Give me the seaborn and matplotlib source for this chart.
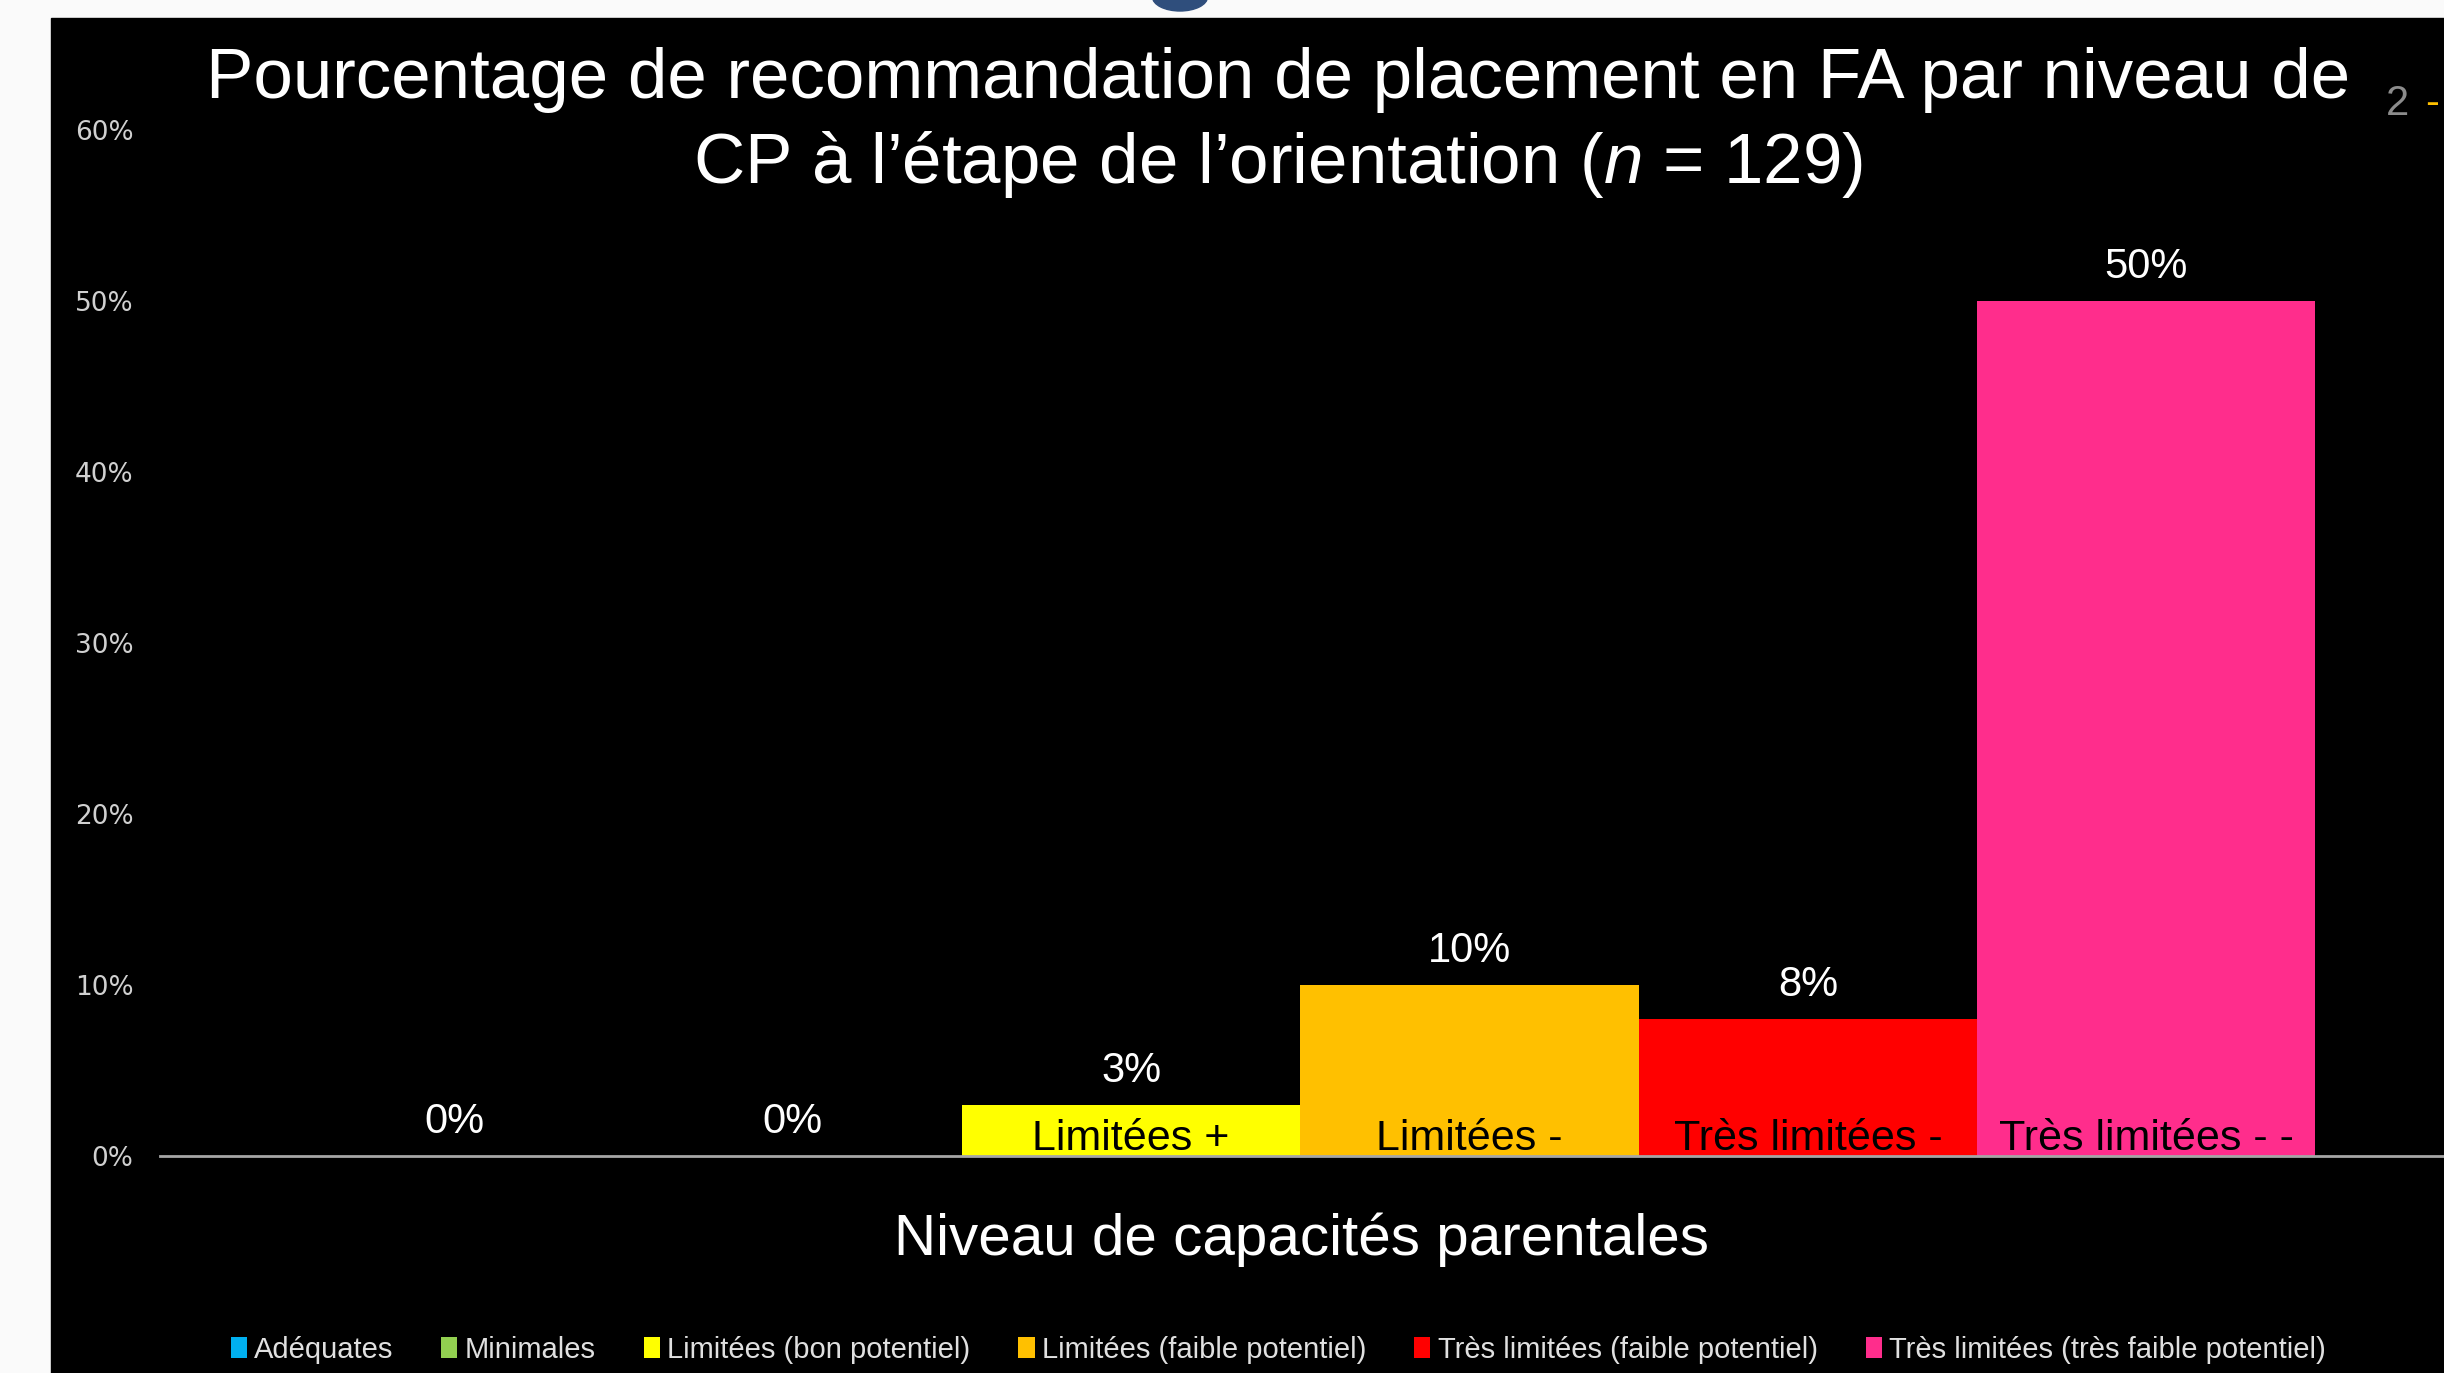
import matplotlib
matplotlib.use('Agg')
import matplotlib.pyplot as plt
import seaborn as sns
import pandas as pd
from matplotlib.patches import Rectangle, Ellipse

# données
niveaux = ['Adéquates', 'Minimales', 'Limitées (bon potentiel)', 'Limitées (faible potentiel)',
           'Très limitées (faible potentiel)', 'Très limitées (très faible potentiel)']
etiquettes = ['', '', 'Limitées +', 'Limitées -', 'Très limitées -', 'Très limitées - -']
pourcentages = [0, 0, 3, 10, 8, 50]
couleurs = ['#00B0F0', '#92D050', '#FFFF00', '#FFC000', '#FF0000', '#FF2D8C']
graduations = [0, 10, 20, 30, 40, 50, 60]

titre1 = 'Pourcentage de recommandation de placement en FA par niveau de'
titre2 = 'CP à l’étape de l’orientation ($n$ = 129)'

df = pd.DataFrame({'niveau': niveaux, 'pct': pourcentages})

sns.set_theme(style='white')
plt.rcParams['font.family'] = ['Liberation Sans', 'DejaVu Sans']
plt.rcParams['mathtext.fontset'] = 'custom'
plt.rcParams['mathtext.rm'] = 'Liberation Sans'
plt.rcParams['mathtext.it'] = 'Liberation Sans:italic'

W, H = 2444, 1373
fig = plt.figure(figsize=(W / 100, H / 100), dpi=100, facecolor='#fafafa')
# panneau noir de la diapo
fig.patches.append(Rectangle((51 / W, 0), 1, 1 - 18 / H, transform=fig.transFigure,
                             color='black', zorder=-10))
fig.patches.append(Ellipse((1180 / W, 1 + 3 / H), 55 / W, 28 / H, transform=fig.transFigure,
                           color='#2F4E7C', zorder=-5))

ax = fig.add_axes([160 / W, 217 / H, 1 - 160 / W, 1026 / H])
ax.set_facecolor('black')

sns.barplot(data=df, x='niveau', y='pct', hue='niveau', palette=couleurs, dodge=False,
            width=1.0, linewidth=0, saturation=1, ax=ax, legend=True)

ax.set_ylim(0, 60)
ax.set_xlim(-0.87, 5.88)
ax.set_yticks(graduations)
ax.set_yticklabels([f'{t}%' for t in graduations], family='DejaVu Sans', fontsize=19, color='#d0d0d0')
ax.tick_params(axis='y', length=0, pad=19)
ax.tick_params(axis='x', bottom=False, labelbottom=False)
for s in ['top', 'left', 'right']:
    ax.spines[s].set_visible(False)
ax.spines['bottom'].set_color('#a6a6a6')
ax.spines['bottom'].set_linewidth(2)
ax.grid(False)

for c in ax.containers:
    ax.bar_label(c, fmt='%.0f%%', padding=10, color='white', fontsize=30)

for i, lab in enumerate(etiquettes):
    ax.annotate(lab, (i, 0), xytext=(0, 4), textcoords='offset points', ha='center',
                va='baseline', fontsize=31, color='black')

ax.set_ylabel('')
ax.set_xlabel('Niveau de capacités parentales', fontsize=42, color='white', labelpad=41)

fig.text(0.523, 1 - 80 / H, titre1, ha='center', va='center', fontsize=51, color='white')
fig.text(0.523, 1 - 165 / H, titre2, ha='center', va='center', fontsize=51, color='white')

leg = ax.get_legend()
handles = leg.legend_handles
labels = [t.get_text() for t in leg.get_texts()]
leg.remove()
fig.legend(handles, labels, loc='center', bbox_to_anchor=(0.523, 0.017), ncol=6, frameon=False,
           fontsize=21, labelcolor='#e0e0e0', handlelength=0.55, handleheight=0.7,
           handletextpad=0.25, columnspacing=1.65)

# restes de la diapo derrière
fig.text(2397 / W, 1 - 104 / H, '2', color='#8c8c8c', fontsize=30, ha='center', va='center')
fig.text(2425 / W, 1 - 104 / H, '-', color='#FFC000', fontsize=30, ha='left', va='center')

fig.savefig('out.png', dpi=100, facecolor=fig.get_facecolor())
